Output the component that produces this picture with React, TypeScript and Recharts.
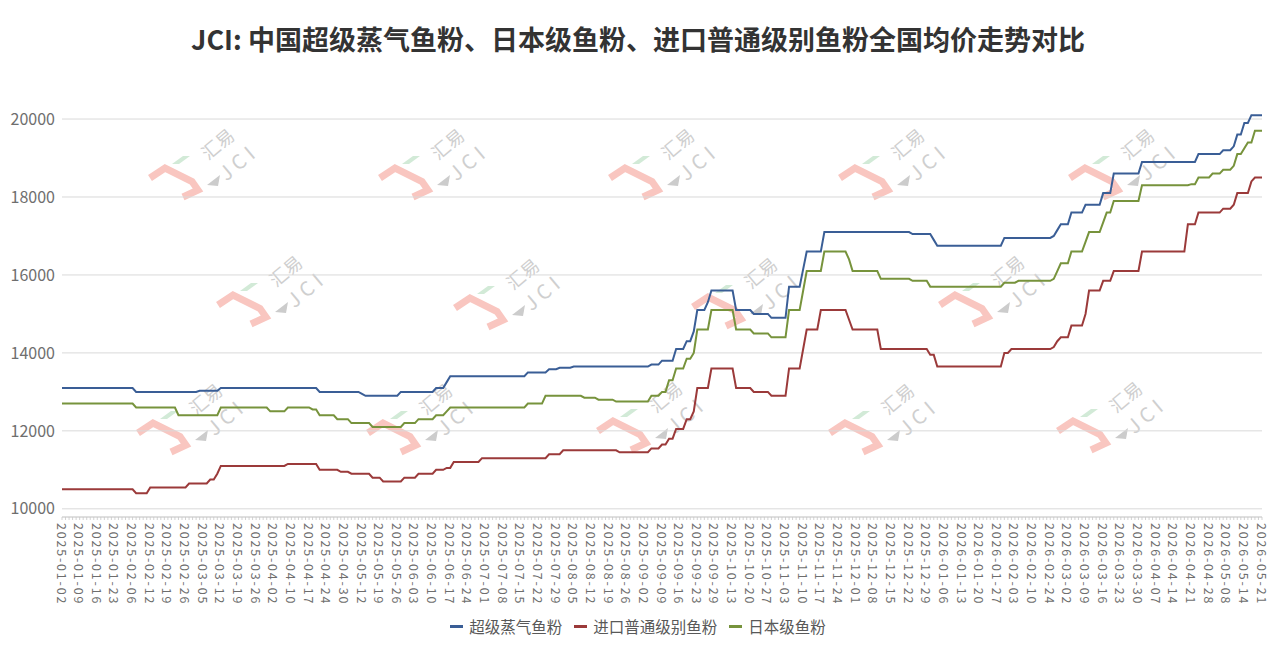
import React from 'react'
import { LineChart, Line, XAxis, YAxis, CartesianGrid } from 'recharts'

// x-axis labels, one every 5 trading days
const TICK_LABELS = [
  '2025-01-02', '2025-01-09', '2025-01-16', '2025-01-23', '2025-02-06', '2025-02-12', '2025-02-19', '2025-02-26',
  '2025-03-05', '2025-03-12', '2025-03-19', '2025-03-26', '2025-04-02', '2025-04-10', '2025-04-17', '2025-04-24',
  '2025-04-30', '2025-05-12', '2025-05-19', '2025-05-26', '2025-06-03', '2025-06-10', '2025-06-17', '2025-06-24',
  '2025-07-01', '2025-07-08', '2025-07-15', '2025-07-22', '2025-07-29', '2025-08-05', '2025-08-12', '2025-08-19',
  '2025-08-26', '2025-09-02', '2025-09-09', '2025-09-16', '2025-09-23', '2025-09-29', '2025-10-13', '2025-10-20',
  '2025-10-27', '2025-11-03', '2025-11-10', '2025-11-17', '2025-11-24', '2025-12-01', '2025-12-08', '2025-12-15',
  '2025-12-22', '2025-12-29', '2026-01-06', '2026-01-13', '2026-01-20', '2026-01-27', '2026-02-03', '2026-02-10',
  '2026-02-24', '2026-03-02', '2026-03-09', '2026-03-16', '2026-03-23', '2026-03-30', '2026-04-07', '2026-04-14',
  '2026-04-21', '2026-04-28', '2026-05-08', '2026-05-14', '2026-05-21',
]
const LABEL_EVERY = 5

// price levels as [first day index, price] — each holds until the next entry
const SUPER_STEPS: [number, number][] = [
  [0, 13100], [21, 13000], [39, 13030], [45, 13100], [73, 13000], [85, 12950], [86, 12900], [96, 13000],
  [106, 13100], [109, 13250], [110, 13400], [132, 13500], [138, 13580], [141, 13620], [145, 13650], [167, 13700],
  [170, 13800], [174, 14100], [177, 14300], [179, 14550], [180, 15100], [183, 15300], [184, 15600], [191, 15100],
  [196, 15000], [201, 14900], [206, 15700], [210, 16150], [211, 16600], [216, 17100], [241, 17050], [247, 16900],
  [248, 16750], [267, 16950], [281, 17000], [282, 17150], [283, 17300], [286, 17600], [290, 17800], [295, 18100],
  [298, 18600], [306, 18900], [322, 19100], [329, 19200], [332, 19300], [333, 19600], [335, 19900], [337, 20100],
]
const IMPORT_STEPS: [number, number][] = [
  [0, 10500], [21, 10400], [25, 10550], [36, 10650], [42, 10750], [44, 10900], [45, 11100], [64, 11150],
  [73, 11000], [79, 10950], [82, 10900], [88, 10800], [91, 10700], [97, 10800], [101, 10900], [106, 11000],
  [109, 11050], [111, 11200], [119, 11300], [138, 11400], [142, 11500], [158, 11450], [167, 11550], [170, 11650],
  [172, 11800], [174, 12050], [177, 12300], [179, 12500], [180, 13100], [184, 13600], [191, 13100], [196, 13000],
  [201, 12900], [206, 13600], [210, 14100], [211, 14600], [215, 15100], [223, 14850], [224, 14600], [232, 14100],
  [246, 13950], [248, 13650], [267, 14000], [269, 14100], [281, 14150], [282, 14300], [283, 14400], [286, 14700],
  [290, 15000], [291, 15600], [295, 15850], [298, 16100], [306, 16600], [319, 17300], [322, 17600], [329, 17700],
  [332, 17800], [333, 18100], [337, 18400], [338, 18500],
]
const JAPAN_STEPS: [number, number][] = [
  [0, 12700], [21, 12600], [33, 12400], [45, 12600], [59, 12500], [64, 12600], [71, 12550], [73, 12400],
  [78, 12300], [82, 12200], [88, 12100], [97, 12200], [101, 12300], [106, 12400], [109, 12500], [110, 12600],
  [132, 12700], [137, 12900], [148, 12850], [152, 12800], [157, 12750], [167, 12900], [170, 13000], [172, 13300],
  [174, 13600], [177, 13850], [179, 14000], [180, 14600], [184, 15100], [191, 14600], [196, 14500], [201, 14400],
  [206, 15100], [210, 15600], [211, 16100], [216, 16600], [223, 16400], [224, 16100], [232, 15900], [241, 15850],
  [246, 15700], [267, 15800], [271, 15850], [281, 15900], [282, 16100], [283, 16300], [286, 16600], [290, 16850],
  [291, 17100], [295, 17350], [296, 17600], [298, 17900], [306, 18300], [320, 18330], [322, 18500], [326, 18600],
  [329, 18700], [332, 18800], [333, 19100], [335, 19250], [336, 19400], [338, 19700],
]

const SERIES = [
  { key: 'super', name: '超级蒸气鱼粉', color: '#3a5e96', steps: SUPER_STEPS },
  { key: 'imp', name: '进口普通级别鱼粉', color: '#9b3a3a', steps: IMPORT_STEPS },
  { key: 'japan', name: '日本级鱼粉', color: '#77933c', steps: JAPAN_STEPS },
]

const Y_TICKS = [10000, 12000, 14000, 16000, 18000, 20000]

// watermark logo anchors
const LOGOS: [number, number][] = [
  [150, 178], [380, 178], [610, 178], [840, 178], [1070, 178],
  [218, 305], [455, 308], [693, 307], [940, 305],
  [138, 433], [368, 433], [598, 431], [830, 433], [1058, 431],
]

const FONT = '"Noto Sans CJK SC", "Noto Sans", sans-serif'

const N = (TICK_LABELS.length - 1) * LABEL_EVERY + 1

function expand(steps: [number, number][], n: number) {
  const out: number[] = []
  steps.forEach(([start, v], k) => {
    const end = k + 1 < steps.length ? steps[k + 1][0] : n
    for (let i = start; i < end; i++) out.push(v)
  })
  return out
}

const expanded = SERIES.map(s => expand(s.steps, N))
const data = Array.from({ length: N }, (_, i) => {
  const row: Record<string, number> = { i }
  SERIES.forEach((s, k) => { row[s.key] = expanded[k][i] })
  return row
})
const xTicks = data.map(d => d.i)

function DateTick(props: any) {
  const { x, y, payload } = props
  const i = payload.value
  const label = i % LABEL_EVERY === 0 ? TICK_LABELS[i / LABEL_EVERY] : null
  return (
    <g>
      <line x1={x} x2={x} y1={y} y2={y + 3} stroke="#c8c8c8" strokeWidth={0.8} />
      {label && (
        <text
          transform={`translate(${x},${y + 6}) rotate(90)`}
          textAnchor="start"
          dominantBaseline="central"
          fontSize={12.5}
          letterSpacing={1.8}
          fill="#6e6e6e"
          fontFamily={FONT}
        >
          {label}
        </text>
      )}
    </g>
  )
}

function Logo({ x, y }: { x: number; y: number }) {
  return (
    <g transform={`translate(${x},${y})`}>
      <polyline points="0,0 15,-10 42,3.5 48,12 33,19" fill="none" stroke="#f9c6c0" strokeWidth={7} />
      <polygon points="22,-14 33,-22 40,-22 29,-14" fill="#d2ead7" />
      <text x={67} y={-35} transform="rotate(-40 67 -35)" textAnchor="middle" dominantBaseline="central"
        fontSize={18} fill="#cfcfcf" fontFamily={FONT}>汇易</text>
      <text x={88} y={-17} transform="rotate(-40 88 -17)" textAnchor="middle" dominantBaseline="central"
        fontSize={20} letterSpacing={5} fill="#cfcfcf" fontFamily={FONT}>JCI</text>
      <polygon points="57,7 70,-3 68,8" fill="#cccccc" />
    </g>
  )
}

export default function App() {
  return (
    <div style={{ position: 'absolute', left: 0, top: 0, width: 1276, height: 651, background: '#fff', fontFamily: FONT }}>
      <svg width={1276} height={651} style={{ position: 'absolute', left: 0, top: 0 }}>
        {LOGOS.map(([x, y], k) => <Logo key={k} x={x} y={y} />)}
      </svg>

      <div style={{
        position: 'absolute', left: 0, top: 25, width: 1276, textAlign: 'center',
        fontSize: 27, lineHeight: '27px', fontWeight: 700, color: '#333',
      }}>
        JCI: 中国超级蒸气鱼粉、日本级鱼粉、进口普通级别鱼粉全国均价走势对比
      </div>

      <div style={{ position: 'absolute', left: 0, top: 0 }}>
        <LineChart width={1276} height={651} data={data} margin={{ top: 105, right: 14, left: 0, bottom: 34 }}>
          <CartesianGrid vertical={false} stroke="#d9d9d9" horizontalValues={Y_TICKS} />
          <XAxis
            dataKey="i"
            type="number"
            domain={[0, N - 1]}
            ticks={xTicks}
            interval={0}
            height={100}
            tickSize={0}
            tickMargin={0}
            tickLine={false}
            axisLine={{ stroke: '#bfbfbf' }}
            tick={<DateTick />}
          />
          <YAxis
            type="number"
            domain={[9790, 20360]}
            allowDataOverflow
            ticks={Y_TICKS}
            width={62}
            axisLine={false}
            tickLine={false}
            tickSize={0}
            tickMargin={7}
            tick={{ fill: '#6e6e6e', fontSize: 16, fontFamily: FONT }}
          />
          {SERIES.map(s => (
            <Line
              key={s.key}
              dataKey={s.key}
              name={s.name}
              type="linear"
              stroke={s.color}
              strokeWidth={2}
              dot={false}
              isAnimationActive={false}
            />
          ))}
        </LineChart>
      </div>

      <div style={{
        position: 'absolute', left: 0, top: 618, width: 1276, display: 'flex', justifyContent: 'center',
        alignItems: 'center', fontSize: 15.5, lineHeight: '17px', color: '#595959',
      }}>
        {SERIES.map(s => (
          <div key={s.key} style={{ display: 'flex', alignItems: 'center', margin: '0 6px' }}>
            <span style={{ display: 'inline-block', width: 13, height: 3, background: s.color, marginRight: 6 }} />
            <span>{s.name}</span>
          </div>
        ))}
      </div>
    </div>
  )
}
